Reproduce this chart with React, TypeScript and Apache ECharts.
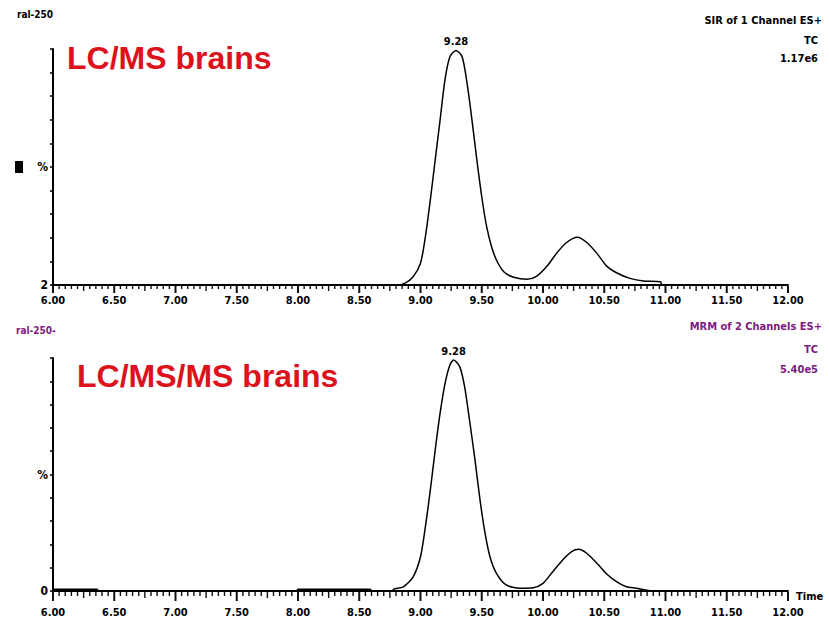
import React, { useEffect, useRef } from "react";
import * as echarts from "echarts";

// Time axis (minutes)
const xTicks = ["6.00", "6.50", "7.00", "7.50", "8.00", "8.50", "9.00", "9.50", "10.00", "10.50", "11.00", "11.50", "12.00"];

// Top trace: SIR of 1 Channel ES+ (relative %)
const topTimes = [6.0, 8.8, 8.87, 8.94, 9.0, 9.04, 9.08, 9.12, 9.16, 9.2, 9.24, 9.29, 9.34, 9.38, 9.42, 9.46, 9.5, 9.54, 9.58, 9.62, 9.68, 9.76, 9.87, 9.95, 10.03, 10.11, 10.19, 10.28, 10.36, 10.44, 10.52, 10.6, 10.71, 10.82, 10.96, 10.97, 12.0];
const topValues = [0, 0, 0.7, 3.5, 9.2, 20.5, 36, 53, 70, 87, 96.7, 99.4, 96.7, 85.5, 70, 53, 37.4, 24.7, 16.2, 10.6, 5.6, 3.3, 2.4, 3.8, 7.8, 13.4, 17.9, 20.2, 17.9, 13.4, 8, 5.2, 2.8, 1.7, 1.4, 0, 0];

// Bottom trace: MRM of 2 Channels ES+ (relative %)
const bottomTimes = [6.0, 6.36, 6.37, 7.99, 8.0, 8.59, 8.6, 8.77, 8.78, 8.86, 8.94, 9.0, 9.04, 9.08, 9.12, 9.16, 9.2, 9.24, 9.27, 9.32, 9.36, 9.4, 9.445, 9.486, 9.527, 9.567, 9.62, 9.7, 9.81, 9.92, 10.0, 10.08, 10.166, 10.234, 10.29, 10.357, 10.44, 10.52, 10.6, 10.68, 10.76, 10.9, 12.0];
const bottomValues = [0.8, 0.8, 0, 0, 0.8, 0.8, 0, 0, 0.8, 1.8, 6.1, 14.7, 27.6, 43.3, 60.5, 76.3, 89, 97, 99.1, 96.3, 87.7, 73.4, 56.2, 39, 24.8, 14.7, 7.6, 2.6, 1.2, 1.4, 3.3, 8.3, 13.6, 16.9, 17.9, 16.2, 11.9, 7.3, 4, 1.8, 1.2, 0, 0];

const peakLabel = "9.28";
const topYLabels: Record<number, string> = { 0: "2", 50: "%" };
const bottomYLabels: Record<number, string> = { 0: "0", 50: "%" };

const PIX = "'DejaVu Sans Condensed', 'Liberation Sans Narrow', sans-serif";
const PURPLE = "#7d1a80";

const X_MIN = 6;
const X_MAX = 12;
const MINOR_STEP = 0.05;

function zip(t: number[], v: number[]) {
  return t.map((x, i) => [x, v[i]]);
}

function apex(t: number[], v: number[]) {
  let k = 0;
  v.forEach((y, i) => { if (y > v[k]) k = i; });
  return [t[k], v[k]];
}

export default function App() {
  const ref = useRef<HTMLDivElement>(null);
  useEffect(() => {
    if (!ref.current) return;
    const chart = echarts.init(ref.current, null, { renderer: "svg" });

    const xAxisBase = (gridIndex: number, margin: number) => ({
      type: "value",
      gridIndex,
      min: X_MIN,
      max: X_MAX,
      interval: 0.5,
      axisLine: { show: true, onZero: false, lineStyle: { color: "#000", width: 2 } },
      axisTick: { show: false },
      splitLine: { show: false },
      axisLabel: {
        margin,
        color: "#000",
        fontFamily: PIX,
        fontWeight: "bold",
        fontSize: 11,
        formatter: (v: number) => xTicks[Math.round((v - X_MIN) / 0.5)] ?? "",
      },
    });

    const yAxisBase = (gridIndex: number, labels: Record<number, string>) => ({
      type: "value",
      gridIndex,
      min: 0,
      max: 100,
      interval: 10,
      axisLine: { show: true, onZero: false, lineStyle: { color: "#000", width: 2 } },
      axisTick: { show: true, inside: false, length: 3, lineStyle: { color: "#000", width: 1.5 } },
      splitLine: { show: false },
      axisLabel: {
        margin: 5,
        color: "#000",
        fontFamily: PIX,
        fontWeight: "bold",
        fontSize: 12,
        formatter: (v: number) => labels[Math.round(v)] ?? "",
      },
    });

    const tickData: number[][] = [];
    const nTicks = Math.round((X_MAX - X_MIN) / MINOR_STEP);
    for (let i = 0; i <= nTicks; i++) tickData.push([X_MIN + i * MINOR_STEP, 0, i]);

    const tickSeries = (idx: number, major: number, mid: number, minor: number) => ({
      type: "custom",
      coordinateSystem: "cartesian2d",
      xAxisIndex: idx,
      yAxisIndex: idx,
      clip: false,
      silent: true,
      z: 10,
      encode: { x: 0, y: 1 },
      data: tickData,
      renderItem: (_p: any, api: any) => {
        const i = api.value(2);
        const p = api.coord([api.value(0), 0]);
        const isMajor = i % 10 === 0;
        const len = isMajor ? major : i % 5 === 0 ? mid : minor;
        const w = isMajor ? 2 : 1.4;
        return {
          type: "rect",
          shape: { x: p[0] - w / 2, y: p[1] + 1, width: w, height: len },
          style: { fill: "#111" },
        };
      },
    });

    const topApex = apex(topTimes, topValues);
    const botApex = apex(bottomTimes, bottomValues);

    const peakMark = (pt: number[]) => ({
      symbol: "circle",
      symbolSize: 0,
      silent: true,
      label: {
        show: true,
        position: "top",
        distance: 3,
        color: "#000",
        fontFamily: PIX,
        fontWeight: "bold",
        fontSize: 11,
        formatter: peakLabel,
      },
      data: [{ coord: pt, value: peakLabel }],
    });

    chart.setOption({
      animation: false,
      backgroundColor: "#fff",
      grid: [
        { left: 53, top: 49, width: 735, height: 236 },
        { left: 53, top: 358, width: 735, height: 233 },
      ],
      xAxis: [
        xAxisBase(0, 10),
        {
          ...xAxisBase(1, 16),
          name: "Time",
          nameLocation: "end",
          nameGap: 8,
          nameTextStyle: { color: "#000", fontFamily: PIX, fontWeight: "bold", fontSize: 11, verticalAlign: "top" },
        },
      ],
      yAxis: [yAxisBase(0, topYLabels), yAxisBase(1, bottomYLabels)],
      series: [
        {
          type: "line",
          xAxisIndex: 0,
          yAxisIndex: 0,
          data: zip(topTimes, topValues),
          showSymbol: false,
          smooth: 0.25,
          lineStyle: { color: "#000", width: 1.5 },
          markPoint: peakMark(topApex),
        },
        {
          type: "line",
          xAxisIndex: 1,
          yAxisIndex: 1,
          data: zip(bottomTimes, bottomValues),
          showSymbol: false,
          smooth: 0.25,
          lineStyle: { color: "#000", width: 1.5 },
          markPoint: peakMark(botApex),
        },
        tickSeries(0, 7, 5, 3),
        tickSeries(1, 9, 6, 4),
      ],
      graphic: [
        { type: "text", left: 17, top: 9, style: { text: "ral-250", fill: "#000", font: `bold 10px ${PIX}` } },
        { type: "text", left: 16, top: 325, style: { text: "ral-250-", fill: PURPLE, font: `bold 10px ${PIX}` } },
        { type: "text", x: 67, y: 42, style: { text: "LC/MS brains", fill: "#dc121c", font: "bold 32px 'Liberation Sans', Arial, sans-serif", textVerticalAlign: "alphabetic" } },
        { type: "text", x: 77, y: 360, style: { text: "LC/MS/MS brains", fill: "#dc121c", font: "bold 32px 'Liberation Sans', Arial, sans-serif", textVerticalAlign: "alphabetic" } },
        { type: "text", x: 822, y: 20, style: { text: "SIR of 1 Channel ES+", fill: "#000", font: `bold 11px ${PIX}`, textAlign: "right", textVerticalAlign: "middle" } },
        { type: "text", x: 818, y: 40, style: { text: "TC", fill: "#000", font: `bold 11px ${PIX}`, textAlign: "right", textVerticalAlign: "middle" } },
        { type: "text", x: 818, y: 58, style: { text: "1.17e6", fill: "#000", font: `bold 11px ${PIX}`, textAlign: "right", textVerticalAlign: "middle" } },
        { type: "text", x: 822, y: 326, style: { text: "MRM of 2 Channels ES+", fill: PURPLE, font: `bold 11px ${PIX}`, textAlign: "right", textVerticalAlign: "middle" } },
        { type: "text", x: 818, y: 349, style: { text: "TC", fill: PURPLE, font: `bold 11px ${PIX}`, textAlign: "right", textVerticalAlign: "middle" } },
        { type: "text", x: 818, y: 369, style: { text: "5.40e5", fill: PURPLE, font: `bold 11px ${PIX}`, textAlign: "right", textVerticalAlign: "middle" } },
        { type: "rect", shape: { x: 15, y: 161, width: 8, height: 12 }, style: { fill: "#000" } },
      ],
    });
    return () => chart.dispose();
  }, []);

  return (
    <div
      ref={ref}
      style={{ position: "fixed", left: 0, top: 0, width: 829, height: 620, background: "#fff" }}
    />
  );
}
